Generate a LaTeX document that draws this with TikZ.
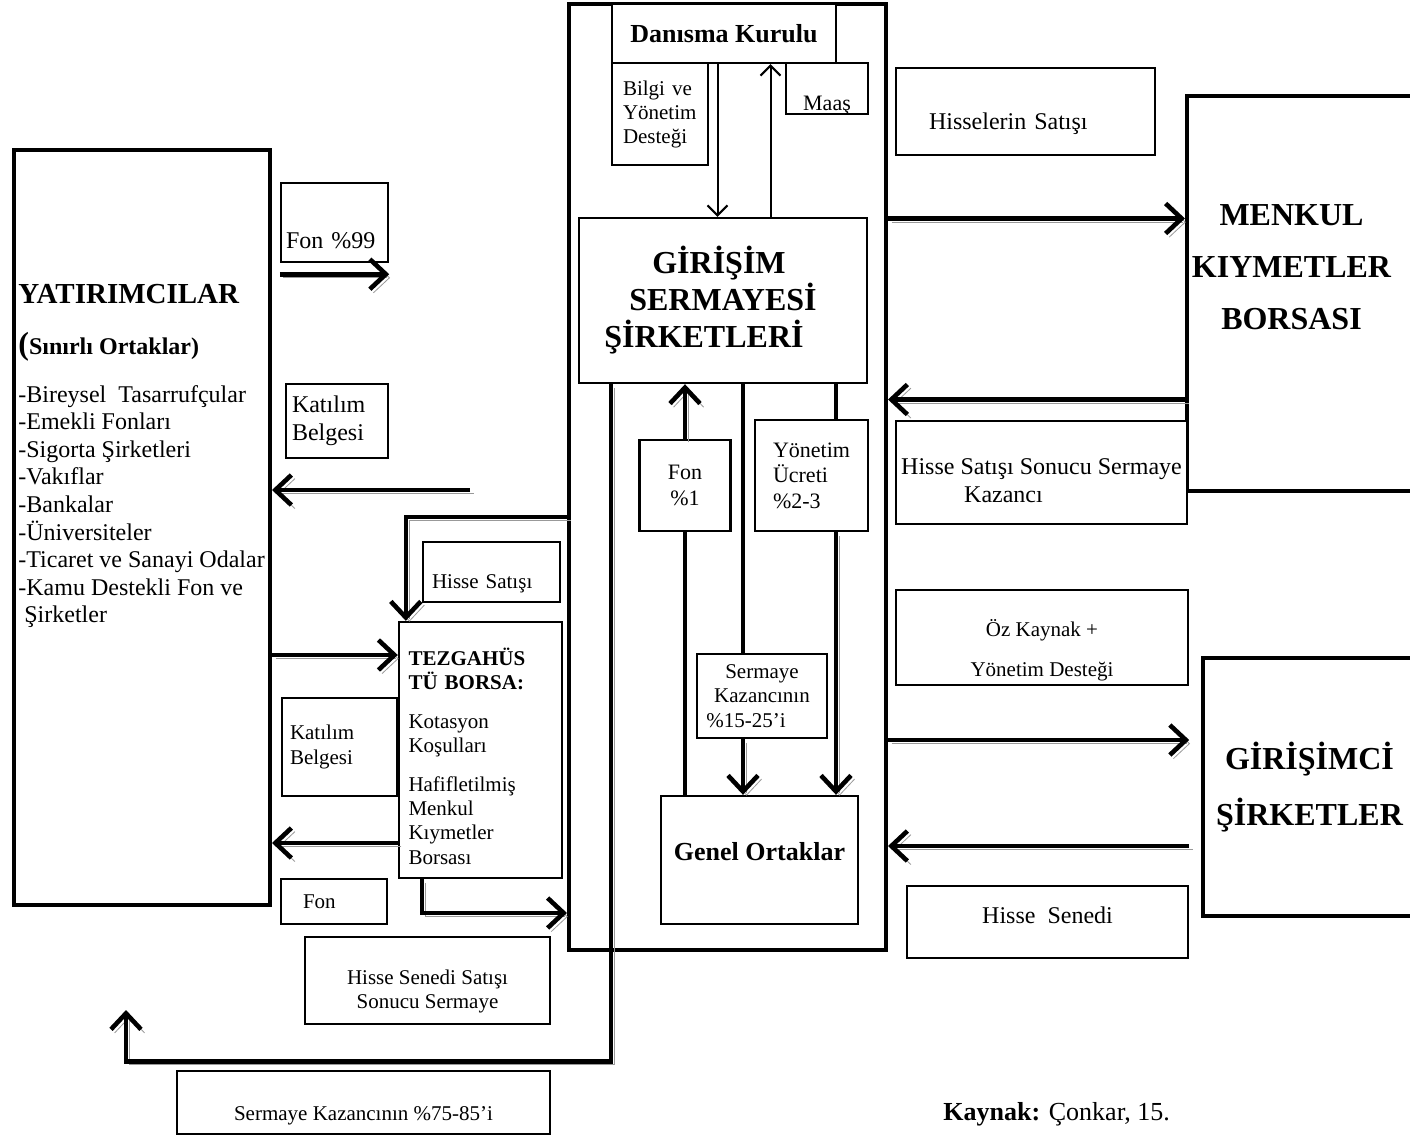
\documentclass[tikz,border=0pt]{standalone}
\usepackage{fontspec}
\setmainfont{Liberation Serif}
\usetikzlibrary{positioning}
\usetikzlibrary{arrows.meta}

\begin{document}
\begin{tikzpicture}[x=0.5pt, y=-0.5pt,
        box/.style={draw, line width=1.2pt, fill=white, inner sep=0pt},
        bigbox/.style={draw, line width=2pt, fill=white, inner sep=0pt},
        flowline/.style={line width=2.3pt},
        flow/.style={line width=2.3pt, -{Straight Barb[length=8pt,width=15pt]},
            preaction={draw=black!40, transform canvas={shift={(1.8pt,-1.8pt)}}}},
        thinarrow/.style={line width=1pt, -{Straight Barb[length=5pt,width=10pt]}}]
    \useasboundingbox (0,0) rectangle (1410,1136);

    % girisim sermayesi cercevesi
    \node[bigbox, fill=none, minimum width=158.5pt, minimum height=473pt] (frame) at (727.5,477) {};
    \node[box, font=\fontsize{13}{15}\selectfont\bfseries, minimum width=112pt, minimum height=29.5pt] (danisma) at (724,33.5) {Danısma Kurulu};
    \node[box, font=\fontsize{10.5}{12}\selectfont, minimum height=51pt, text width=37pt, align=left, inner xsep=5.5pt] (bilgi) at (660,114) {Bilgi ve\\Yönetim\\Desteği};
    \node[box, font=\fontsize{11}{12.5}\selectfont, minimum width=41pt, minimum height=25.5pt, text height=23.5pt, text depth=2pt] (maas) at (827,88.5) {Maaş};
    \node[box, font=\fontsize{16}{18.5}\selectfont\bfseries, align=center, minimum width=144pt, minimum height=82.5pt] (gss) at (723,300.5) {GİRİŞİM\kern4pt\\SERMAYESİ\\ŞİRKETLERİ\kern19pt};
    \node[box, font=\fontsize{11}{13}\selectfont, align=center, minimum width=45.5pt, minimum height=45.5pt] (fon1) at (685,485.5) {Fon\\\%1};
    \node[box, font=\fontsize{11}{12.75}\selectfont, align=left, text width=38.5pt, inner xsep=9pt, minimum height=55.5pt] (yon) at (811.5,475.5) {Yönetim\\Ücreti\\\%2-3};
    \node[box, font=\fontsize{10.5}{12.25}\selectfont, align=center, minimum width=65pt, minimum height=42pt] (sk) at (762,696) {Sermaye\\Kazancının\\\%15-25’i\kern16pt};
    \node[box, font=\fontsize{13}{15}\selectfont\bfseries, minimum width=98.5pt, minimum height=64pt, text height=0pt, text depth=0pt] (genel) at (759.5,860) {Genel Ortaklar};

    % yatirimcilar ve tezgahustu borsa
    \node[bigbox, minimum width=128pt, minimum height=377.5pt] (yat) at (142,527.5) {};
    \node[anchor=north west, align=left, inner sep=0pt, font=\fontsize{12}{13.8}\selectfont] (yattext) at ([xshift=3pt,yshift=-67.75pt]yat.north west)
        {{\fontsize{14.5}{16}\selectfont\bfseries YATIRIMCILAR}\\[11.7pt]
         {\bfseries\fontsize{16}{16}\selectfont(\fontsize{12}{13.8}\selectfont Sınırlı Ortaklar)}\\[10.2pt]
         -Bireysel\ \ Tasarrufçular\\-Emekli Fonları\\-Sigorta Şirketleri\\-Vakıflar\\-Bankalar\\-Üniversiteler\\-Ticaret ve Sanayi Odalar\\-Kamu Destekli Fon ve\\\hspace*{3pt}Şirketler};
    \node[box, font=\fontsize{12}{13.8}\selectfont, minimum height=39.5pt, text width=48.5pt, align=left, inner xsep=2.5pt, text height=25.5pt, text depth=0pt] (fon99) at (334.5,222.5) {Fon \%99};
    \node[box, font=\fontsize{12}{14}\selectfont, minimum height=37pt, text width=45pt, align=left, inner xsep=3pt] (kat1) at (337,421) {Katılım\\Belgesi};
    \node[box, font=\fontsize{10.5}{12}\selectfont, minimum height=30pt, text width=59.5pt, align=left, inner xsep=4.5pt, text height=18pt, text depth=2pt] (hissesat) at (491.5,572) {Hisse Satışı};
    \node[box, font=\fontsize{10.5}{12.2}\selectfont, text width=72pt, align=left, inner xsep=4.75pt, minimum height=128pt] (tezgah) at (480.5,750)
        {\rule{0pt}{15pt}\textbf{TEZGAHÜS}\\\textbf{TÜ BORSA:}\\[7pt]Kotasyon\\Koşulları\\[7pt]Hafifletilmiş\\Menkul\\Kıymetler\\Borsası};
    \node[box, font=\fontsize{10.5}{12.5}\selectfont, minimum height=49pt, text width=49.5pt, align=left, inner xsep=4pt] (kat2) at (339.5,747) {Katılım\\Belgesi};
    \node[box, font=\fontsize{10.5}{12}\selectfont, minimum height=22.5pt, text width=31pt, align=left, inner xsep=11pt] (fon) at (334,901.5) {Fon};
    \node[box, font=\fontsize{10.5}{12}\selectfont, align=center, minimum width=122.5pt, minimum height=43.5pt] (hssonuc) at (427.5,980.5) {\rule{0pt}{17.8pt}Hisse Senedi Satışı\\Sonucu Sermaye};
    \node[box, font=\fontsize{10.5}{12}\selectfont, minimum width=186.5pt, minimum height=31.5pt, text height=19.8pt, text depth=2.3pt] (skpay) at (363.5,1102.5) {Sermaye Kazancının \%75-85’i};

    % borsa ve girisimci sirketler
    \node[box, font=\fontsize{12}{14}\selectfont, minimum height=43.5pt, text width=96.5pt, align=left, inner xsep=16.5pt, text height=20.6pt, text depth=2.4pt] (hsatis) at (1025.5,111.5) {Hisselerin Satışı};
    \node[bigbox, font=\fontsize{16}{26}\selectfont\bfseries, align=center, minimum width=114.5pt, minimum height=197.5pt] (menkul) at (1301.5,293.5)
        {MENKUL\kern10pt\\KIYMETLER\kern10pt\\BORSASI\kern10pt\rule[-26.5pt]{0pt}{26.5pt}};
    \node[box, font=\fontsize{12}{14}\selectfont, align=left, minimum width=145.5pt, minimum height=51.5pt] (hkazanc) at (1041.5,472.5)
        {\rule{0pt}{16pt}Hisse Satışı Sonucu Sermaye\\\hspace*{31.5pt}Kazancı};
    \node[box, font=\fontsize{10.5}{20}\selectfont, align=center, minimum width=146pt, minimum height=47.5pt] (ozk) at (1042,637.5) {\rule{0pt}{21.3pt}Öz Kaynak +\\Yönetim Desteği};
    \node[bigbox, font=\fontsize{16}{28}\selectfont\bfseries, align=center, minimum width=106.5pt, minimum height=129pt] (girisimci) at (1309.5,787) {GİRİŞİMCİ\\ŞİRKETLER};
    \node[box, font=\fontsize{12}{14}\selectfont, minimum width=140.5pt, minimum height=36pt, text height=1pt, text depth=0pt] (hsenet) at (1047.5,922) {Hisse\ \ Senedi};

    \node[anchor=base west, inner sep=0pt, font=\fontsize{13}{15}\selectfont] (kaynak) at (943,1120) {\textbf{Kaynak:} Çonkar, 15.};

    % danisma kurulu oklari
    \coordinate (dkdown) at ([xshift=-3.25pt]danisma.south);
    \coordinate (dkup) at ([xshift=23.25pt]danisma.south);
    \draw[thinarrow] (dkdown) -- (dkdown |- gss.north);
    \draw[thinarrow] (dkup |- gss.north) -- (dkup);

    % genel ortaklar
    \coordinate (skx) at ([xshift=-8.25pt]genel.north);
    \coordinate (yux) at ([xshift=38.25pt]genel.north);
    \draw[flowline] (genel.north -| fon1) -- (fon1.south);
    \draw[flow] (fon1.north) -- (fon1 |- gss.south);
    \draw[flowline] (skx |- gss.south) -- (skx |- sk.north);
    \draw[flow] (skx |- sk.south) -- (skx);
    \draw[flowline] (yux |- gss.south) -- (yux |- yon.north);
    \draw[flow] (yux |- yon.south) -- (yux);

    % yatirimci tarafi
    \coordinate (katstart) at (470,490);
    \coordinate (tzin) at ([yshift=47.5pt]tezgah.west);
    \coordinate (tzout) at ([yshift=-46.5pt]tezgah.west);
    \coordinate (yatret) at ([xshift=57pt,yshift=-51.5pt]yat.south west);
    \draw[flow] ([yshift=-5.5pt]fon99.south west) -- ([yshift=-5.5pt]fon99.south east);
    \draw[flow] (katstart) -- (katstart -| yat.east);
    \draw[flow] ([yshift=-20pt]frame.west) -| ([xshift=4pt]tezgah.north west);
    \draw[flow] (tzin -| yat.east) -- (tzin);
    \draw[flow] (tzout) -- (tzout -| yat.east);
    \draw[flow] ([xshift=12pt]tezgah.south west) |- ([yshift=-218pt]frame.west);
    \draw[flow] ([xshift=16.5pt]gss.south west) -- ++(0,677) -| (yatret);

    % borsa ve girisimci oklari
    \coordinate (mkin) at ([yshift=37.5pt]menkul.west);
    \coordinate (mkout) at ([yshift=-53pt]menkul.west);
    \coordinate (gin) at ([yshift=23.5pt]girisimci.west);
    \coordinate (gout) at ([yshift=-29.5pt]girisimci.west);
    \draw[flow] (mkin -| frame.east) -- (mkin);
    \draw[flow] (mkout) -- (mkout -| frame.east);
    \draw[flow] (gin -| frame.east) -- (gin -| ozk.east);
    \draw[flow] (gout -| ozk.east) -- (gout -| frame.east);
\end{tikzpicture}
\end{document}
